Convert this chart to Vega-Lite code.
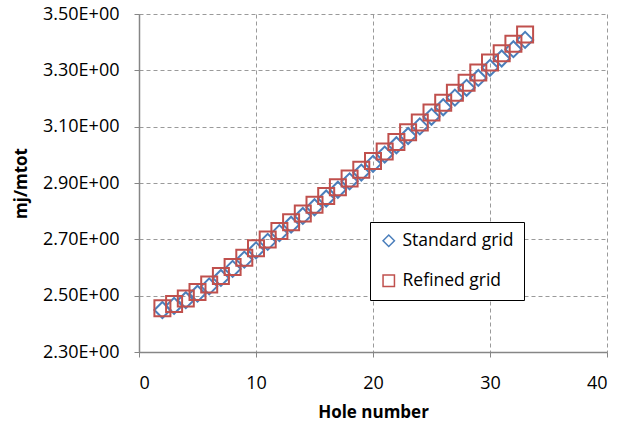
{
  "$schema": "https://vega.github.io/schema/vega-lite/v6.json",
  "width": 468,
  "height": 338,
  "autosize": "none",
  "padding": {"left": 139, "top": 14, "right": 21, "bottom": 77},
  "background": "white",
  "config": {
    "view": {"stroke": null},
    "font": "Open Sans",
    "axis": {
      "labelFont": "Open Sans",
      "labelFontSize": 18,
      "labelColor": "#000000",
      "titleFont": "Open Sans",
      "titleFontSize": 17,
      "titleFontWeight": "bold",
      "titleColor": "#000000",
      "domainColor": "#868686",
      "domainWidth": 1.5,
      "tickColor": "#868686",
      "tickSize": 5,
      "gridColor": "#9a9a9a",
      "gridDash": [4, 3],
      "gridWidth": 1
    }
  },
  "data": {
    "values": [
      {"hole": 2, "series": "Standard grid", "value": 2.449},
      {"hole": 3, "series": "Standard grid", "value": 2.464},
      {"hole": 4, "series": "Standard grid", "value": 2.484},
      {"hole": 5, "series": "Standard grid", "value": 2.507},
      {"hole": 6, "series": "Standard grid", "value": 2.533},
      {"hole": 7, "series": "Standard grid", "value": 2.563},
      {"hole": 8, "series": "Standard grid", "value": 2.595},
      {"hole": 9, "series": "Standard grid", "value": 2.628},
      {"hole": 10, "series": "Standard grid", "value": 2.661},
      {"hole": 11, "series": "Standard grid", "value": 2.691},
      {"hole": 12, "series": "Standard grid", "value": 2.722},
      {"hole": 13, "series": "Standard grid", "value": 2.752},
      {"hole": 14, "series": "Standard grid", "value": 2.783},
      {"hole": 15, "series": "Standard grid", "value": 2.814},
      {"hole": 16, "series": "Standard grid", "value": 2.845},
      {"hole": 17, "series": "Standard grid", "value": 2.876},
      {"hole": 18, "series": "Standard grid", "value": 2.906},
      {"hole": 19, "series": "Standard grid", "value": 2.937},
      {"hole": 20, "series": "Standard grid", "value": 2.968},
      {"hole": 21, "series": "Standard grid", "value": 3.001},
      {"hole": 22, "series": "Standard grid", "value": 3.034},
      {"hole": 23, "series": "Standard grid", "value": 3.067},
      {"hole": 24, "series": "Standard grid", "value": 3.101},
      {"hole": 25, "series": "Standard grid", "value": 3.135},
      {"hole": 26, "series": "Standard grid", "value": 3.169},
      {"hole": 27, "series": "Standard grid", "value": 3.203},
      {"hole": 28, "series": "Standard grid", "value": 3.238},
      {"hole": 29, "series": "Standard grid", "value": 3.273},
      {"hole": 30, "series": "Standard grid", "value": 3.309},
      {"hole": 31, "series": "Standard grid", "value": 3.342},
      {"hole": 32, "series": "Standard grid", "value": 3.375},
      {"hole": 33, "series": "Standard grid", "value": 3.408},
      {"hole": 2, "series": "Refined grid", "value": 2.455},
      {"hole": 3, "series": "Refined grid", "value": 2.470},
      {"hole": 4, "series": "Refined grid", "value": 2.490},
      {"hole": 5, "series": "Refined grid", "value": 2.513},
      {"hole": 6, "series": "Refined grid", "value": 2.540},
      {"hole": 7, "series": "Refined grid", "value": 2.570},
      {"hole": 8, "series": "Refined grid", "value": 2.602},
      {"hole": 9, "series": "Refined grid", "value": 2.635},
      {"hole": 10, "series": "Refined grid", "value": 2.668},
      {"hole": 11, "series": "Refined grid", "value": 2.699},
      {"hole": 12, "series": "Refined grid", "value": 2.730},
      {"hole": 13, "series": "Refined grid", "value": 2.761},
      {"hole": 14, "series": "Refined grid", "value": 2.792},
      {"hole": 15, "series": "Refined grid", "value": 2.823},
      {"hole": 16, "series": "Refined grid", "value": 2.854},
      {"hole": 17, "series": "Refined grid", "value": 2.885},
      {"hole": 18, "series": "Refined grid", "value": 2.916},
      {"hole": 19, "series": "Refined grid", "value": 2.947},
      {"hole": 20, "series": "Refined grid", "value": 2.978},
      {"hole": 21, "series": "Refined grid", "value": 3.012},
      {"hole": 22, "series": "Refined grid", "value": 3.046},
      {"hole": 23, "series": "Refined grid", "value": 3.080},
      {"hole": 24, "series": "Refined grid", "value": 3.115},
      {"hole": 25, "series": "Refined grid", "value": 3.150},
      {"hole": 26, "series": "Refined grid", "value": 3.185},
      {"hole": 27, "series": "Refined grid", "value": 3.220},
      {"hole": 28, "series": "Refined grid", "value": 3.256},
      {"hole": 29, "series": "Refined grid", "value": 3.292},
      {"hole": 30, "series": "Refined grid", "value": 3.328},
      {"hole": 31, "series": "Refined grid", "value": 3.361},
      {"hole": 32, "series": "Refined grid", "value": 3.394},
      {"hole": 33, "series": "Refined grid", "value": 3.427}
    ]
  },
  "mark": {"type": "point", "filled": false, "strokeWidth": 2, "size": 256, "opacity": 1},
  "encoding": {
    "x": {
      "field": "hole",
      "type": "quantitative",
      "title": "Hole number",
      "scale": {"domain": [0, 40], "nice": false, "zero": false},
      "axis": {"values": [0, 10, 20, 30, 40], "labelPadding": 17, "titlePadding": 12, "tickSize": 5}
    },
    "y": {
      "field": "value",
      "type": "quantitative",
      "title": "mj/mtot",
      "scale": {"domain": [2.3, 3.5], "nice": false, "zero": false},
      "axis": {
        "values": [2.3, 2.5, 2.7, 2.9, 3.1, 3.3, 3.5],
        "labelExpr": "format(datum.value, '.2f') + 'E+00'",
        "labelPadding": 15,
        "titlePadding": 12
      }
    },
    "shape": {
      "field": "series",
      "type": "nominal",
      "sort": null,
      "scale": {"domain": ["Standard grid", "Refined grid"], "range": ["diamond", "square"]},
      "legend": {
        "title": null,
        "orient": "none",
        "legendX": 231,
        "legendY": 208,
        "strokeColor": "#000000",
        "fillColor": "#ffffff",
        "padding": 10,
        "rowPadding": 21,
        "symbolSize": 130,
        "symbolStrokeWidth": 1.5,
        "labelFont": "Open Sans",
        "labelFontSize": 17.5,
        "labelColor": "#000000",
        "labelOffset": 5
      }
    },
    "color": {
      "field": "series",
      "type": "nominal",
      "sort": null,
      "scale": {"domain": ["Standard grid", "Refined grid"], "range": ["#4a7ebb", "#c0504d"]},
      "legend": {
        "title": null,
        "orient": "none",
        "legendX": 231,
        "legendY": 208,
        "strokeColor": "#000000",
        "fillColor": "#ffffff",
        "padding": 10,
        "rowPadding": 21,
        "symbolSize": 130,
        "symbolStrokeWidth": 1.5,
        "labelFont": "Open Sans",
        "labelFontSize": 17.5,
        "labelColor": "#000000",
        "labelOffset": 5
      }
    },
    "order": {"field": "series", "sort": "descending"}
  }
}
